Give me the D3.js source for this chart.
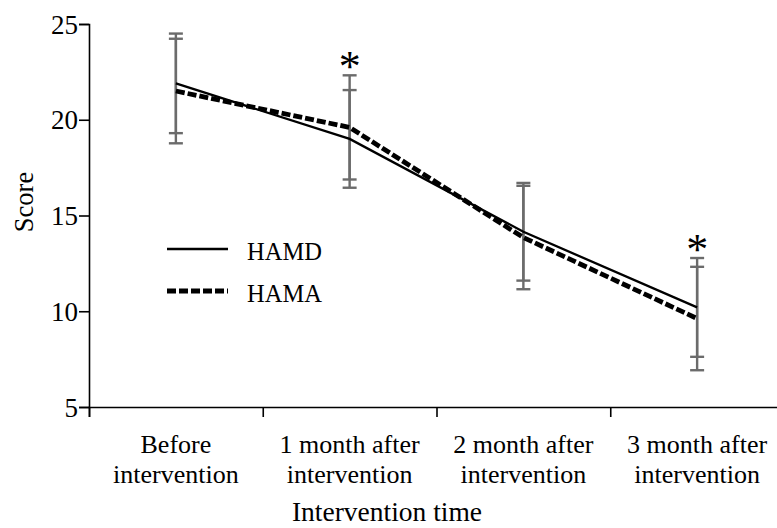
<!DOCTYPE html>
<html>
<head>
<meta charset="utf-8">
<script src="https://cdn.jsdelivr.net/npm/d3@7"></script>
<style>
  html, body { margin: 0; padding: 0; background: #fff; }
  svg { display: block; }
  text { font-family: "Liberation Serif", "Times New Roman", serif; fill: #000; }
</style>
</head>
<body>
<svg id="chart" width="777" height="528"></svg>
<script>
// ---- data ----
const categories = ["Before intervention", "1 month after intervention", "2 month after intervention", "3 month after intervention"];
const categoryLines = [["Before", "intervention"], ["1 month after", "intervention"], ["2 month after", "intervention"], ["3 month after", "intervention"]];
const hamd = [21.9, 19.0, 14.15, 10.2];
const hamdErr = [2.6, 2.55, 2.55, 2.58];
const hama = [21.5, 19.6, 13.85, 9.62];
const hamaErr = [2.73, 2.72, 2.7, 2.7];
const significant = [false, true, false, true];
const yTicks = [5, 10, 15, 20, 25];
const seriesNames = ["HAMD", "HAMA"];

// ---- layout ----
const svg = d3.select("#chart");
const mLeft = 89, mRight = 784, mTop = 24, mBottom = 407;

const x = d3.scaleBand().domain(categories).range([mLeft, mRight]).paddingInner(0).paddingOuter(0);
const xIdx = d3.scaleLinear().domain([0, categories.length]).range([mLeft, mRight]);
const y = d3.scaleLinear().domain([5, 25]).range([mBottom, mTop]);
const cx = c => x(c) + x.bandwidth() / 2;

// y axis
const yAxis = svg.append("g").attr("transform", `translate(${mLeft},0)`)
  .call(d3.axisLeft(y).tickValues(yTicks).tickSize(10).tickPadding(1).tickFormat(d3.format("d")));
yAxis.select(".domain").attr("stroke", "#000").attr("stroke-width", 1.6);
yAxis.selectAll(".tick line").attr("stroke", "#000").attr("stroke-width", 1.6);
yAxis.selectAll(".tick text").style("font-size", "27px").style("font-family", "Liberation Serif").attr("fill", "#000").attr("dy", "0.34em");

// x axis (ticks at band boundaries)
const xAxis = svg.append("g").attr("transform", `translate(0,${mBottom})`)
  .call(d3.axisBottom(xIdx).tickValues(d3.range(categories.length + 1)).tickSize(10).tickFormat(""));
xAxis.select(".domain").attr("stroke", "#000").attr("stroke-width", 1.6);
xAxis.selectAll(".tick line").attr("stroke", "#000").attr("stroke-width", 1.6);

// x category labels
categories.forEach((c, i) => {
  const t = svg.append("text").attr("text-anchor", "middle").style("font-size", "26px");
  categoryLines[i].forEach((ln, j) => {
    t.append("tspan").attr("x", cx(c)).attr("y", 453 + j * 30).text(ln);
  });
});

// axis titles
svg.append("text").attr("text-anchor", "middle").attr("x", 387).attr("y", 521)
  .style("font-size", "27.5px").text("Intervention time");
svg.append("text").attr("text-anchor", "middle")
  .attr("transform", `translate(33,202) rotate(-90)`)
  .style("font-size", "26.5px").text("Score");

// error bars
const errColor = "#6b6b6b";
function drawErr(vals, errs) {
  const g = svg.append("g").attr("stroke", errColor).attr("stroke-width", 2.4);
  categories.forEach((c, i) => {
    const xc = cx(c), hi = y(vals[i] + errs[i]), lo = y(vals[i] - errs[i]);
    g.append("line").attr("x1", xc).attr("x2", xc).attr("y1", hi).attr("y2", lo);
    g.append("line").attr("x1", xc - 7).attr("x2", xc + 7).attr("y1", hi).attr("y2", hi);
    g.append("line").attr("x1", xc - 7).attr("x2", xc + 7).attr("y1", lo).attr("y2", lo);
  });
}
drawErr(hamd, hamdErr);
drawErr(hama, hamaErr);

// lines
const line = d3.line().x((d, i) => cx(categories[i])).y(d => y(d));
svg.append("path").datum(hamd).attr("d", line).attr("fill", "none").attr("stroke", "#000").attr("stroke-width", 2.3);
svg.append("path").datum(hama).attr("d", line).attr("fill", "none").attr("stroke", "#000").attr("stroke-width", 4.8).attr("stroke-dasharray", "9,3");

// significance asterisks
categories.forEach((c, i) => {
  if (!significant[i]) return;
  const topCap = Math.min(y(hamd[i] + hamdErr[i]), y(hama[i] + hamaErr[i]));
  svg.append("text").attr("text-anchor", "middle").attr("x", cx(c)).attr("y", topCap + 6)
    .style("font-size", "44px").text("*");
});

// legend
const legY = [249, 291];
svg.append("line").attr("x1", 167).attr("x2", 228).attr("y1", legY[0]).attr("y2", legY[0]).attr("stroke", "#000").attr("stroke-width", 2.3);
svg.append("line").attr("x1", 167).attr("x2", 228).attr("y1", legY[1]).attr("y2", legY[1]).attr("stroke", "#000").attr("stroke-width", 4.8).attr("stroke-dasharray", "9,3");
seriesNames.forEach((n, i) => {
  svg.append("text").attr("x", 247).attr("y", legY[i] + 11).style("font-size", "24.5px").text(n);
});
</script>
</body>
</html>
